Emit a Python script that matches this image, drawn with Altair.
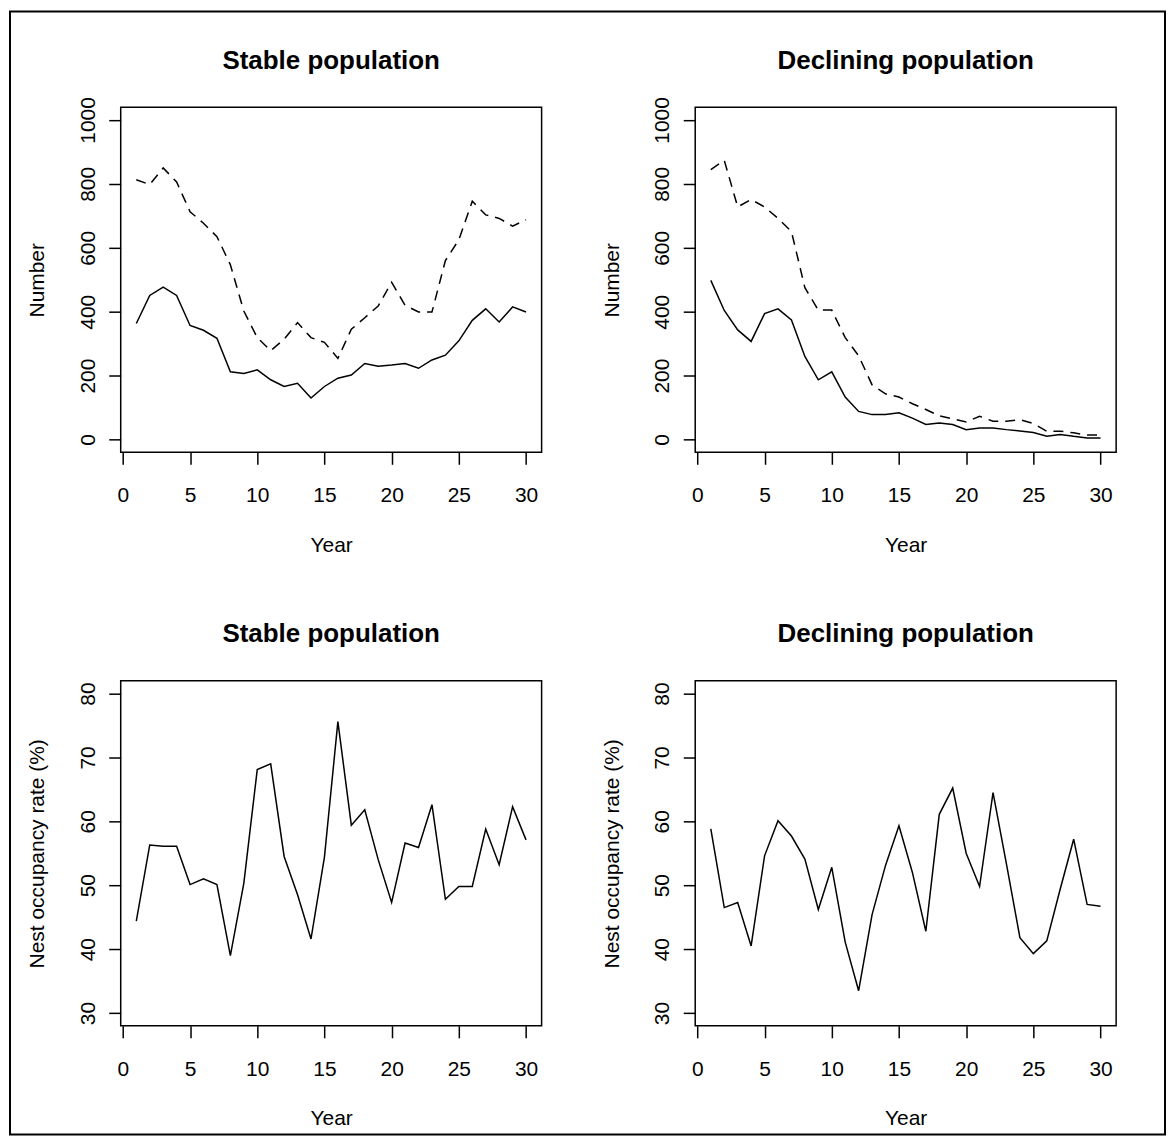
import altair as alt
import pandas as pd

# ---------------- data ----------------
years = list(range(1, 31))

stable_adults = [813, 798, 850, 806, 713, 677, 635, 547, 402, 319,
                 278, 314, 366, 319, 304, 254, 345, 381, 418, 492,
                 420, 399, 399, 560, 625, 746, 703, 692, 668, 688]
stable_pairs = [363, 451, 477, 451, 357, 342, 317, 212, 207, 218,
                187, 166, 176, 130, 166, 192, 202, 238, 229, 233,
                238, 223, 249, 264, 309, 373, 409, 368, 415, 399]

declining_adults = [845, 874, 728, 751, 728, 692, 651, 475, 405, 405,
                    319, 262, 171, 143, 133, 112, 94, 74, 65, 55,
                    73, 57, 57, 62, 50, 26, 26, 21, 14, 14]
declining_pairs = [498, 404, 343, 307, 394, 409, 374, 260, 187, 212,
                   133, 88, 78, 78, 84, 67, 47, 52, 47, 31,
                   36, 36, 31, 27, 22, 10, 16, 10, 5, 5]

stable_occupancy = [44.4, 56.3, 56.1, 56.1, 50.1, 51.0, 50.1, 39.0, 50.3, 68.1,
                    69.0, 54.5, 48.5, 41.6, 54.4, 75.6, 59.4, 61.8, 54.0, 47.3,
                    56.6, 55.9, 62.6, 47.8, 49.8, 49.8, 58.8, 53.2, 62.3, 57.1]
declining_occupancy = [58.8, 46.5, 47.3, 40.5, 54.6, 60.1, 57.7, 54.1, 46.2, 52.8,
                       41.1, 33.5, 45.4, 53.1, 59.3, 52.0, 42.8, 61.1, 65.2, 55.0,
                       49.8, 64.5, 53.3, 41.8, 39.3, 41.3, 49.4, 57.2, 47.0, 46.7]

panel_titles = ["Stable population", "Declining population",
                "Stable population", "Declining population"]
x_ticks = [0, 5, 10, 15, 20, 25, 30]
count_ticks = [0, 200, 400, 600, 800, 1000]
occ_ticks = [30, 40, 50, 60, 70, 80]

FONT = "Liberation Sans"
W, H = 422, 346


def panel(title, series, y_domain, y_ticks, y_title, border=False):
    x = alt.X(
        "year:Q",
        scale=alt.Scale(domain=[-0.16, 31.16], nice=False, zero=False),
        axis=alt.Axis(values=x_ticks, title="Year", titleY=99, format="d",
                      titleBaseline="alphabetic", labelBaseline="alphabetic",
                      labelPadding=37.5),
    )
    y = alt.Y(
        "value:Q",
        scale=alt.Scale(domain=y_domain, nice=False, zero=False),
        axis=alt.Axis(values=y_ticks, title=y_title, labelAngle=270, format="d",
                      labelAlign="center", labelBaseline="alphabetic",
                      labelPadding=14.5, titleAngle=270, titleX=-77, titleY=H / 2,
                      titleAlign="center", titleBaseline="alphabetic"),
    )
    layers = []
    for name, vals, dashed in series:
        df = pd.DataFrame({"year": years, "value": vals, "series": name})
        kw = {"strokeDash": [10, 7]} if dashed else {}
        layers.append(
            alt.Chart(df).mark_line(color="black", strokeWidth=1.5, **kw)
            .encode(x=x, y=y)
        )
    layers.append(
        alt.Chart(alt.Data(values=[{"title": title}]))
        .mark_text(font=FONT, fontSize=26, fontWeight="bold", color="black",
                   align="center", baseline="alphabetic")
        .encode(x=alt.value(W / 2), y=alt.value(-38.7), text="title:N")
    )
    if border:
        layers.append(
            alt.Chart(alt.Data(values=[{"frame": 1}]))
            .mark_rect(filled=False, stroke="black", strokeWidth=2)
            .encode(x=alt.value(-111), x2=alt.value(1047),
                    y=alt.value(-96), y2=alt.value(1030))
        )
    return alt.layer(*layers).properties(width=W, height=H)


tl = panel(panel_titles[0],
           [("Adults", stable_adults, True), ("Breeding pairs", stable_pairs, False)],
           [-40, 1040], count_ticks, "Number", border=True)
tr = panel(panel_titles[1],
           [("Adults", declining_adults, True), ("Breeding pairs", declining_pairs, False)],
           [-40, 1040], count_ticks, "Number")
bl = panel(panel_titles[2],
           [("Occupancy", stable_occupancy, False)],
           [28, 82], occ_ticks, "Nest occupancy rate (%)")
br = panel(panel_titles[3],
           [("Occupancy", declining_occupancy, False)],
           [28, 82], occ_ticks, "Nest occupancy rate (%)")

chart = alt.concat(
    tl, tr, bl, br, columns=2,
    spacing=alt.RowColnumber(row=229, column=154),
    bounds="flush",
).properties(padding=0, background="white").configure_view(
    stroke="black", strokeWidth=1.5
).configure_axis(
    domain=False, grid=False, ticks=True, tickColor="black", tickSize=12,
    tickWidth=1.5, labelFont=FONT, labelFontSize=21, labelColor="black",
    titleFont=FONT, titleFontSize=21, titleFontWeight="normal", titleColor="black",
    labelOverlap=False, labelFlush=False,
)

chart.save("out.html", embed_options={"renderer": "svg", "actions": False})
